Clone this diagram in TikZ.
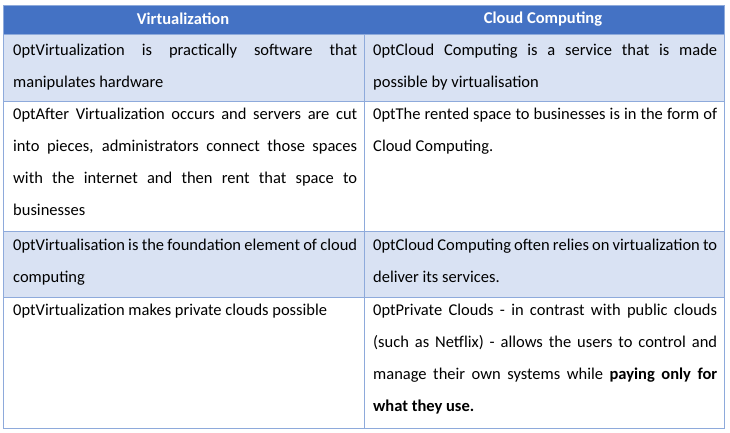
\documentclass[tikz,border=0pt]{standalone}
\usepackage{fontspec}
\setmainfont{Carlito}
\usetikzlibrary{positioning}
\definecolor{hdrblue}{HTML}{4472C4}
\definecolor{rowblue}{HTML}{D9E2F3}
\definecolor{gridblue}{HTML}{8EAADB}
\begin{document}
\begin{tikzpicture}[x=1pt, y=1pt]
    \tikzset{
        cell/.style = {anchor=north west, inner sep=0pt, text width=344pt, align=justify, font=\fontsize{16.5}{32}\selectfont\hyphenpenalty=10000},
        head/.style = {text=white, font=\fontsize{16.5}{17}\selectfont\bfseries},
    }
    \useasboundingbox (0,0) rectangle (730,-433);
    % row backgrounds
    \fill[hdrblue] (3,-5) rectangle (724,-34);
    \fill[rowblue] (3,-34) rectangle (724,-101);
    \fill[rowblue] (3,-231) rectangle (724,-297);
    % grid
    \draw[gridblue, line width=0.8pt] (3,-5) rectangle (724,-428);
    \foreach \yy in {-34,-101,-231,-297}
        \draw[gridblue, line width=0.8pt] (3,\yy) -- (724,\yy);
    \draw[gridblue, line width=0.8pt] (364,-34) -- (364,-428);

    \node (hdrA) [head] at (183,-19) {Virtualization};
    \node (hdrB) [head] at (543,-19) {Cloud Computing};

    \node (r1a) [cell] at (13,-44) {Virtualization is practically software that\linebreak manipulates hardware};
    \node (r1b) [cell] at (373,-44) {Cloud Computing is a service that is made\linebreak possible by virtualisation};
    \node (r2a) [cell] at (13,-108) {After Virtualization occurs and servers are cut\linebreak into pieces, administrators connect those spaces\linebreak with the internet and then rent that space to\linebreak businesses};
    \node (r2b) [cell] at (373,-108) {The rented space to businesses is in the form of\linebreak Cloud Computing.};
    \node (r3a) [cell] at (13,-239) {Virtualisation is the foundation element of cloud\linebreak computing};
    \node (r3b) [cell] at (373,-239) {Cloud Computing often relies on virtualization to\linebreak deliver its services.};
    \node (r4a) [cell] at (13,-304) {Virtualization makes private clouds possible};
    \node (r4b) [cell] at (373,-304) {Private Clouds - in contrast with public clouds\linebreak (such as Netflix) - allows the users to control and\linebreak manage their own systems while \textbf{paying only for}\linebreak \textbf{what they use.}};
\end{tikzpicture}
\end{document}
